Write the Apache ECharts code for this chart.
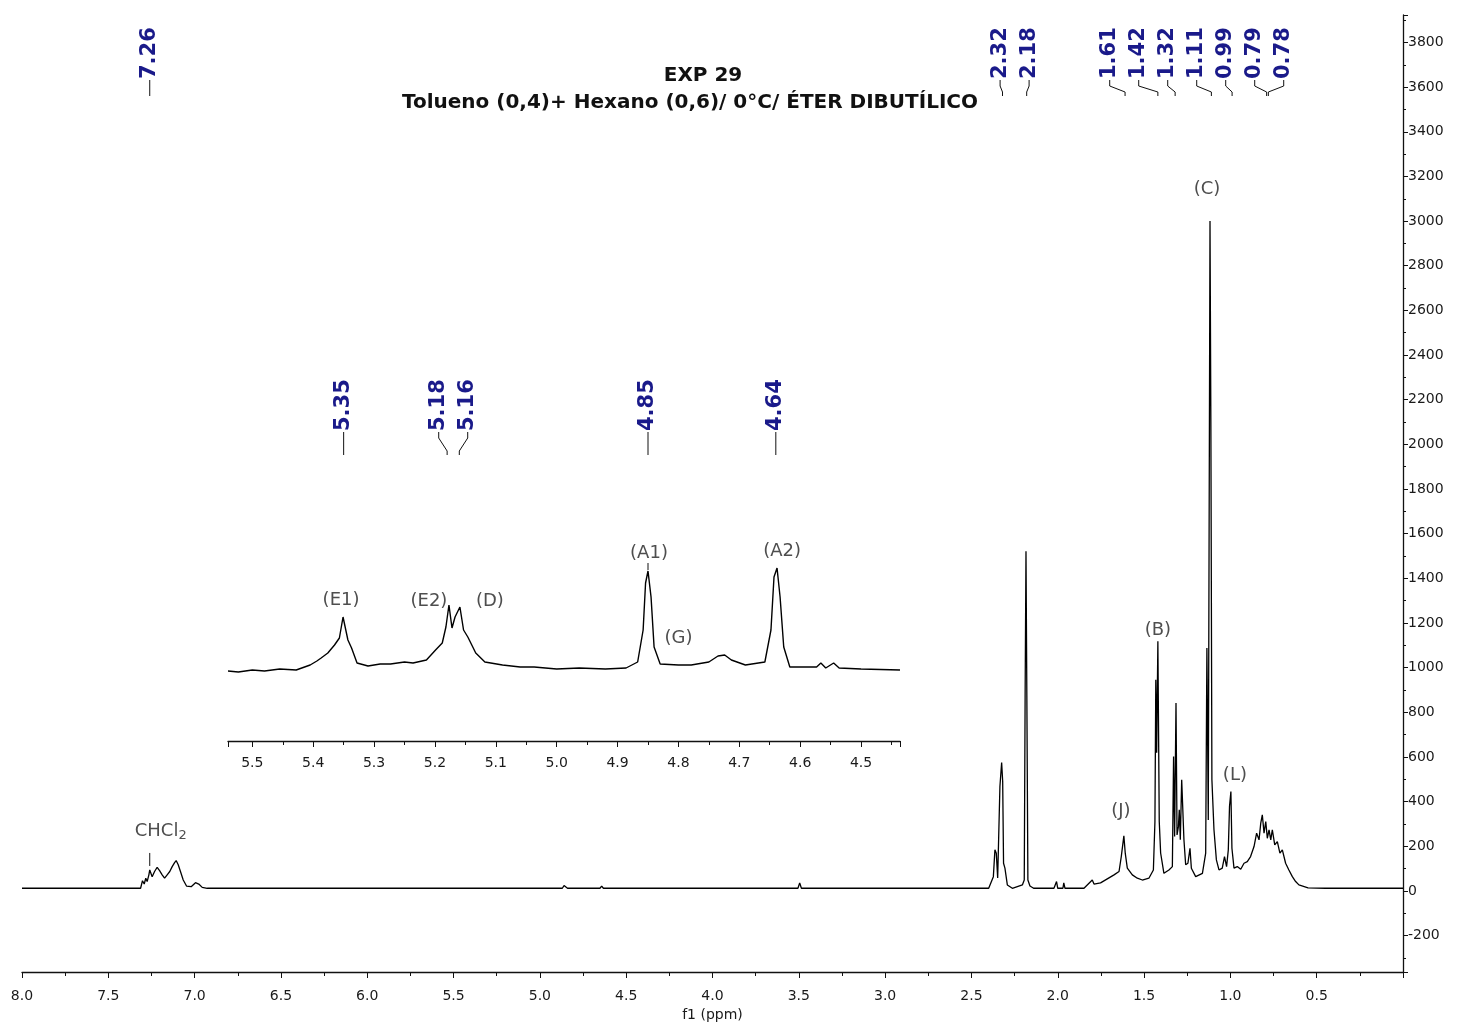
<!DOCTYPE html>
<html>
<head>
<meta charset="utf-8">
<script src="https://cdn.jsdelivr.net/npm/echarts@6/dist/echarts.min.js"></script>
<style>
html,body{margin:0;padding:0;background:#fff;}
#chart{width:1461px;height:1033px;}
</style>
</head>
<body>
<div id="chart"></div>
<script>
// ---------------- DATA ----------------
const spectrumPpm = [8.00,7.55,7.313,7.302,7.292,7.283,7.275,7.265,7.26,7.246,7.232,7.217,7.203,7.188,7.174,7.159,7.144,7.130,7.116,7.107,7.095,7.082,7.066,7.047,7.020,6.995,6.976,6.956,6.927,
  4.87,4.86,4.85,4.84,4.652,4.642,4.632,3.505,3.495,3.485,
  2.40,2.389,2.373,2.364,2.356,2.348,2.335,2.325,2.319,2.314,2.306,2.292,2.263,2.205,2.194,2.189,2.184,2.179,2.173,2.161,2.14,
  2.022,2.007,2.0,1.97,1.965,1.958,1.848,1.80,1.79,1.752,1.713,1.674,1.645,1.632,1.617,1.609,1.597,1.568,1.539,1.510,1.472,
  1.446,1.437,1.432,1.427,1.420,1.412,1.404,1.385,1.356,1.336,1.329,1.323,1.315,1.309,1.301,1.296,1.290,1.282,1.275,1.269,
  1.259,1.246,1.234,1.226,1.201,1.162,1.143,1.136,1.128,1.118,1.113,1.107,1.095,1.081,1.066,1.047,1.034,1.022,1.012,1.005,
  0.997,0.991,0.979,0.960,0.940,0.921,0.902,0.883,0.863,0.848,0.834,0.824,0.815,0.805,0.795,0.786,0.776,0.766,0.757,0.743,
  0.728,0.713,0.699,0.680,0.661,0.641,0.622,0.603,0.593,0.55,0.45,0.00];
const spectrumIntensity = [12,12,12,46,31,57,42,72,94,64,87,106,91,72,57,72,87,109,127,136,117,87,49,22,19,37,31,16,12,
  12,24,20,12,12,22,12,12,36,12,
  12,19,64,184,169,58,468,575,490,124,102,27,12,27,49,871,1521,871,49,22,12,
  12,42,12,12,36,12,12,49,31,36,54,72,87,154,247,169,102,72,57,49,57,
  94,311,946,619,1118,311,170,79,94,109,602,244,842,251,288,363,229,498,505,229,
  117,124,191,102,64,79,169,1088,318,3000,2100,498,274,139,94,102,154,109,184,378,
  445,191,102,109,97,124,131,154,199,259,229,304,341,259,311,236,274,229,274,206,
  221,169,184,124,94,64,42,27,19,14,12,12];

const insetPpm = [5.54,5.523,5.50,5.48,5.455,5.428,5.405,5.394,5.387,5.376,5.365,5.357,5.351,5.343,5.337,5.328,5.31,5.29,5.273,5.25,5.236,
  5.214,5.199,5.188,5.182,5.177,5.172,5.167,5.159,5.153,5.146,5.133,5.118,5.089,5.06,5.037,5.00,4.963,4.92,4.886,4.867,
  4.858,4.854,4.850,4.845,4.840,4.830,4.80,4.779,4.75,4.735,4.724,4.713,4.69,4.658,4.648,4.643,4.638,4.633,4.627,4.617,
  4.573,4.566,4.558,4.545,4.536,4.50,4.436];
const insetIntensity = [-1,-2,0,-1,1,0,5,9,12,17,25,32,53,30,22,7,4,6,6,8,7,
  10,20,27,43,65,42,53,63,40,33,17,8,5,3,3,1,2,1,2,8,
  40,87,99,73,23,6,5,5,8,14,15,10,5,8,40,93,102,73,23,3,
  3,7,2,7,2,1,0];

const mainShiftLabels = ['7.26','2.32','2.18','1.61','1.42','1.32','1.11','0.99','0.79','0.78'];
const insetShiftLabels = ['5.35','5.18','5.16','4.85','4.64'];

const mainTagText = ['CHCl2','(J)','(B)','(C)','(L)'];
const mainTagPpm = [7.26,1.617,1.420,1.118,0.997];
const insetTagText = ['(E1)','(E2)','(D)','(A1)','(G)','(A2)'];
const insetTagPpm = [5.351,5.177,5.159,4.850,4.800,4.638];

const titleLines = ['EXP 29','Tolueno (0,4)+ Hexano (0,6)/ 0°C/ ÉTER DIBUTÍLICO'];

// ---------------- LAYOUT / STYLE ----------------
const NAVY = '#1a1a8a';
const FONT = '"DejaVu Sans", Verdana, sans-serif';
const tagOffset = {'CHCl2':[11,-39],'(J)':[-3,-24],'(B)':[0,-11],'(C)':[-3,-32],'(L)':[4,-16],
  '(E1)':[-2,-17],'(E2)':[-20,-4],'(D)':[30,-6],'(A1)':[1,-18],'(G)':[0,-27],'(A2)':[5,-17]};
const tagLeader = {'CHCl2':[4,17],'(A1)':[1,8]};

function zip(a,b){return a.map((v,i)=>[v,b[i]]);}
function anchorValue(ppmArr,valArr,p){
  let best=null;
  for(let i=0;i<ppmArr.length;i++){ if(Math.abs(ppmArr[i]-p)<=0.004){ if(best===null||valArr[i]>best) best=valArr[i]; } }
  if(best!==null) return best;
  for(let i=0;i<ppmArr.length-1;i++){
    const a=ppmArr[i],b=ppmArr[i+1];
    if((a-p)*(b-p)<=0){ const t=(p-a)/(b-a); return valArr[i]+t*(valArr[i+1]-valArr[i]); }
  }
  return 0;
}
function spreadLabels(xs,gap){
  let clusters=xs.map((x,i)=>({lo:i,hi:i}));
  const start=c=>(xs[c.lo]+xs[c.hi])/2-(c.hi-c.lo)*gap/2;
  let changed=true;
  while(changed){
    changed=false;
    for(let k=0;k<clusters.length-1;k++){
      const a=clusters[k],b=clusters[k+1];
      const aEnd=start(a)+(a.hi-a.lo)*gap;
      if(start(b)-aEnd<gap){clusters.splice(k,2,{lo:a.lo,hi:b.hi});changed=true;break;}
    }
  }
  const out=new Array(xs.length);
  clusters.forEach(c=>{const s=start(c);for(let i=c.lo;i<=c.hi;i++)out[i]=s+(i-c.lo)*gap;});
  return out;
}
function shiftRenderer(labels,textBottom,leaderEnd){
  const ppms=labels.map(parseFloat);
  return function(params,api){
    const cs=params.coordSys;
    const xs=ppms.map(p=>api.coord([p,0])[0]);
    const order=xs.map((x,i)=>i).sort((a,b)=>xs[a]-xs[b]);
    const lab=spreadLabels(order.map(i=>xs[i]),29);
    const pos=order.indexOf(params.dataIndex);
    const px=xs[params.dataIndex], lx=lab[pos];
    const yT=cs.y+textBottom, yE=cs.y+leaderEnd;
    const pts=Math.abs(lx-px)<0.6?[[px,yT],[px,yE]]:[[lx,yT],[lx,yT+6],[px,yE-4],[px,yE]];
    return {type:'group',children:[
      {type:'text',x:lx,y:yT-1,rotation:Math.PI/2,
        style:{text:labels[params.dataIndex],font:'bold 21px '+FONT,fill:NAVY,textAlign:'left',textVerticalAlign:'middle'}},
      {type:'polyline',shape:{points:pts},style:{stroke:'#111',lineWidth:1,fill:null}}
    ]};
  };
}
function tagData(texts,ppms,ppmArr,valArr){
  return texts.map((t,i)=>({name:t,value:[ppms[i],anchorValue(ppmArr,valArr,ppms[i])],
    label:{offset:tagOffset[t]||[0,-15]}}));
}
function leaderRenderer(texts){
  return function(params,api){
    const t=texts[params.dataIndex];
    const L=tagLeader[t];
    if(!L) return null;
    const p=api.coord([api.value(0),api.value(1)]);
    return {type:'line',shape:{x1:p[0],y1:p[1]-L[0],x2:p[0],y2:p[1]-L[1]},style:{stroke:'#111',lineWidth:1}};
  };
}
const tagLabel={show:true,position:'inside',color:'#222',fontFamily:FONT,fontSize:18,
  formatter:p=>p.name==='CHCl2'?'CHCl{s|2}':p.name,
  rich:{s:{fontSize:13,fontFamily:FONT,color:'#222',padding:[9,0,0,0]}}};

const mainTags=tagData(mainTagText,mainTagPpm,spectrumPpm,spectrumIntensity);
const insetTags=tagData(insetTagText,insetTagPpm,insetPpm,insetIntensity);

const axisTxt={color:'#1a1a1a',fontFamily:FONT,fontSize:14};
const chart=echarts.init(document.getElementById('chart'),null,{renderer:'canvas'});
chart.setOption({
  animation:false,
  backgroundColor:'#fff',
  graphic:[
    {type:'text',x:703,y:76,style:{text:titleLines[0],font:'bold 20px '+FONT,fill:'#111',textAlign:'center',textVerticalAlign:'middle'}},
    {type:'text',x:690,y:103,style:{text:titleLines[1],font:'bold 20px '+FONT,fill:'#111',textAlign:'center',textVerticalAlign:'middle'}}
  ],
  grid:[
    {left:22,right:58,top:15,bottom:61},
    {left:228,right:561,top:375,bottom:292}
  ],
  xAxis:[
    {type:'value',gridIndex:0,min:0,max:8,interval:0.5,inverse:true,
      axisLine:{onZero:false,lineStyle:{color:'#111',width:1.3}},
      axisTick:{length:6,lineStyle:{color:'#111'}},
      minorTick:{show:true,splitNumber:2,length:4,lineStyle:{color:'#111'}},
      splitLine:{show:false},
      axisLabel:Object.assign({margin:17,showMinLabel:false,formatter:v=>v.toFixed(1)},axisTxt),
      name:'f1 (ppm)',nameLocation:'middle',nameGap:36,nameTextStyle:{color:'#1a1a1a',fontFamily:FONT,fontSize:14}},
    {type:'value',gridIndex:1,min:4.436,max:5.54,splitNumber:11,inverse:true,
      axisLine:{onZero:false,lineStyle:{color:'#111',width:1.3}},
      axisTick:{length:6,lineStyle:{color:'#111'}},
      minorTick:{show:true,splitNumber:2,length:4,lineStyle:{color:'#111'}},
      splitLine:{show:false},
      axisLabel:Object.assign({margin:15,showMinLabel:false,showMaxLabel:false,formatter:v=>v.toFixed(1)},axisTxt)}
  ],
  yAxis:[
    {type:'value',gridIndex:0,position:'right',min:-363,max:3923,splitNumber:20,
      axisLine:{show:true,onZero:false,lineStyle:{color:'#111',width:1.3}},
      axisTick:{show:true,length:5,lineStyle:{color:'#111'}},
      minorTick:{show:true,splitNumber:2,length:3,lineStyle:{color:'#111'}},
      splitLine:{show:false},
      axisLabel:Object.assign({margin:5,showMinLabel:false,showMaxLabel:false,formatter:v=>String(Math.round(v))},axisTxt)},
    {type:'value',gridIndex:1,min:-71,max:295,show:false,splitLine:{show:false}}
  ],
  series:[
    {type:'line',xAxisIndex:0,yAxisIndex:0,data:zip(spectrumPpm,spectrumIntensity),showSymbol:false,symbol:'none',
      lineStyle:{color:'#000',width:1.3},z:3},
    {type:'line',xAxisIndex:1,yAxisIndex:1,data:zip(insetPpm,insetIntensity),showSymbol:false,symbol:'none',
      lineStyle:{color:'#000',width:1.4},z:3},
    {type:'custom',xAxisIndex:0,yAxisIndex:0,data:mainShiftLabels.map(s=>[parseFloat(s),0]),
      renderItem:shiftRenderer(mainShiftLabels,65,81),z:5},
    {type:'custom',xAxisIndex:1,yAxisIndex:1,data:insetShiftLabels.map(s=>[parseFloat(s),0]),
      renderItem:shiftRenderer(insetShiftLabels,57,80),z:5},
    {type:'scatter',xAxisIndex:0,yAxisIndex:0,data:mainTags,symbolSize:1,itemStyle:{color:'rgba(0,0,0,0)'},label:tagLabel,z:6},
    {type:'scatter',xAxisIndex:1,yAxisIndex:1,data:insetTags,symbolSize:1,itemStyle:{color:'rgba(0,0,0,0)'},label:tagLabel,z:6},
    {type:'custom',xAxisIndex:0,yAxisIndex:0,data:mainTags.map(d=>d.value),renderItem:leaderRenderer(mainTagText),z:6},
    {type:'custom',xAxisIndex:1,yAxisIndex:1,data:insetTags.map(d=>d.value),renderItem:leaderRenderer(insetTagText),z:6}
  ]
});
</script>
</body>
</html>
